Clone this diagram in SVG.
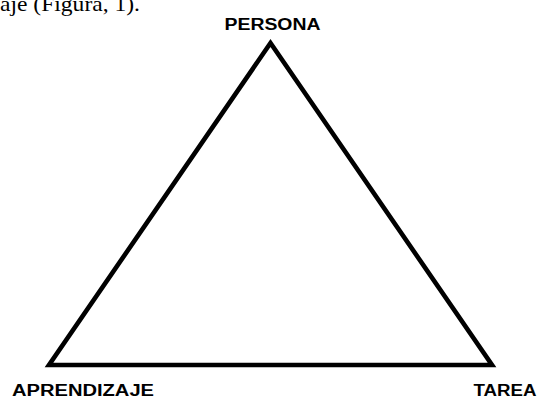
<svg xmlns="http://www.w3.org/2000/svg" width="540" height="399" viewBox="0 0 540 399">
<style>
.lbl{font-family:"Liberation Sans",Arial,sans-serif;font-weight:bold;font-size:16px;fill:#000}
.cap{font-family:"Liberation Serif","Times New Roman",serif;font-size:22px;fill:#000}
.edge{fill:none;stroke:#000;stroke-width:4.6;stroke-linejoin:miter;stroke-miterlimit:10}
</style>
<rect width="540" height="399" fill="#fff"/>
<text class="cap" x="0" y="11" textLength="140" lengthAdjust="spacingAndGlyphs">aje (Figura, 1).</text>
<g id="connectors">
<polygon class="edge" points="270.5,43 49,365 492,365"/>
</g>
<g id="persona"><text class="lbl" x="224.5" y="29.5" textLength="96" lengthAdjust="spacingAndGlyphs">PERSONA</text></g>
<g id="aprendizaje"><text class="lbl" x="12" y="395.5" textLength="142" lengthAdjust="spacingAndGlyphs">APRENDIZAJE</text></g>
<g id="tarea"><text class="lbl" x="473.5" y="395.5" textLength="63" lengthAdjust="spacingAndGlyphs">TAREA</text></g>
</svg>
